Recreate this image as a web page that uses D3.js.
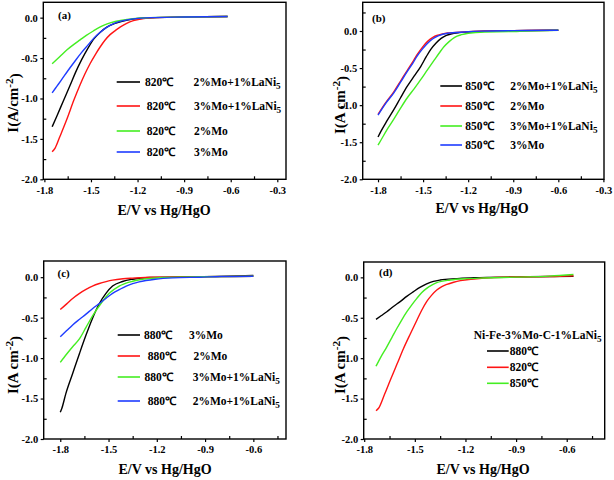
<!DOCTYPE html>
<html><head><meta charset="utf-8">
<script src="https://cdn.jsdelivr.net/npm/d3@7"></script>
<style>
body{margin:0;background:#fff}
svg{display:block}
text{font-family:"Liberation Serif","Times New Roman",serif;font-weight:bold;fill:#000}
</style>
</head><body><svg id="c" width="614" height="480"></svg>
<script>
// ---------- tick labels ----------
const xTicksAB = [-1.8,-1.5,-1.2,-0.9,-0.6,-0.3];
const xLabelsAB = ["-1.8","-1.5","-1.2","-0.9","-0.6","-0.3"];
const xTicksCD = [-1.8,-1.5,-1.2,-0.9,-0.6];
const xLabelsCD = ["-1.8","-1.5","-1.2","-0.9","-0.6"];
const xMinor = [-1.65,-1.35,-1.05,-0.75,-0.45];
const yTicks = [0,-0.5,-1,-1.5,-2];
const yLabels = ["0.0","-0.5","-1.0","-1.5","-2.0"];
const yMinor = [0.25,-0.25,-0.75,-1.25,-1.75];

// ---------- panel (a) 820℃ ----------
const a_2Mo1La = [[-1.75,-1.35],[-1.72,-1.22],[-1.68,-1.04],[-1.635,-0.84],[-1.60,-0.68],[-1.56,-0.52],[-1.52,-0.38],[-1.48,-0.26],[-1.44,-0.18],[-1.40,-0.12],[-1.35,-0.075],[-1.30,-0.045],[-1.23,-0.018],[-1.12,-0.003],[-0.9,0.008],[-0.62,0.015]];
const a_3Mo1La = [[-1.75,-1.66],[-1.73,-1.61],[-1.70,-1.47],[-1.656,-1.26],[-1.61,-1.02],[-1.57,-0.83],[-1.54,-0.70],[-1.506,-0.57],[-1.47,-0.45],[-1.44,-0.36],[-1.41,-0.28],[-1.377,-0.21],[-1.34,-0.155],[-1.31,-0.115],[-1.27,-0.07],[-1.227,-0.037],[-1.16,-0.01],[-1.08,0.0],[-0.9,0.008],[-0.62,0.015]];
const a_2Mo = [[-1.75,-0.57],[-1.70,-0.48],[-1.656,-0.40],[-1.61,-0.33],[-1.57,-0.275],[-1.53,-0.22],[-1.485,-0.165],[-1.44,-0.115],[-1.40,-0.08],[-1.35,-0.05],[-1.31,-0.035],[-1.23,-0.012],[-1.12,0.0],[-0.9,0.008],[-0.62,0.015]];
const a_3Mo = [[-1.75,-0.93],[-1.72,-0.85],[-1.69,-0.77],[-1.65,-0.66],[-1.60,-0.53],[-1.56,-0.43],[-1.52,-0.34],[-1.48,-0.25],[-1.44,-0.18],[-1.40,-0.12],[-1.35,-0.07],[-1.30,-0.04],[-1.23,-0.015],[-1.15,-0.003],[-0.9,0.008],[-0.62,0.015]];

// ---------- panel (b) 850℃ ----------
const b_2Mo1La = [[-1.80,-1.43],[-1.78,-1.35],[-1.74,-1.21],[-1.695,-1.06],[-1.65,-0.90],[-1.605,-0.745],[-1.56,-0.61],[-1.516,-0.48],[-1.48,-0.35],[-1.45,-0.25],[-1.415,-0.165],[-1.38,-0.10],[-1.345,-0.06],[-1.315,-0.04],[-1.26,-0.022],[-1.2,-0.013],[-1.09,-0.003],[-0.9,0.005],[-0.6,0.01]];
const b_2Mo = [[-1.80,-1.125],[-1.75,-0.97],[-1.695,-0.82],[-1.65,-0.675],[-1.605,-0.53],[-1.57,-0.42],[-1.54,-0.32],[-1.505,-0.22],[-1.47,-0.14],[-1.435,-0.085],[-1.40,-0.055],[-1.337,-0.027],[-1.225,-0.012],[-1.11,-0.002],[-0.9,0.005],[-0.6,0.01]];
const b_3Mo1La = [[-1.80,-1.54],[-1.78,-1.47],[-1.74,-1.33],[-1.695,-1.19],[-1.65,-1.04],[-1.605,-0.90],[-1.56,-0.78],[-1.516,-0.656],[-1.47,-0.52],[-1.425,-0.39],[-1.39,-0.29],[-1.36,-0.21],[-1.325,-0.14],[-1.29,-0.085],[-1.245,-0.05],[-1.2,-0.03],[-1.09,-0.013],[-0.93,-0.009],[-0.8,0.0],[-0.6,0.01]];
const b_3Mo = [[-1.80,-1.135],[-1.75,-0.98],[-1.695,-0.835],[-1.65,-0.69],[-1.605,-0.545],[-1.57,-0.44],[-1.54,-0.34],[-1.505,-0.245],[-1.47,-0.165],[-1.435,-0.105],[-1.40,-0.067],[-1.337,-0.03],[-1.225,-0.013],[-1.11,-0.002],[-0.9,0.005],[-0.6,0.01]];

// ---------- panel (c) 880℃ ----------
const c_3Mo = [[-1.80,-1.67],[-1.79,-1.62],[-1.765,-1.436],[-1.723,-1.19],[-1.68,-0.94],[-1.64,-0.716],[-1.60,-0.51],[-1.557,-0.325],[-1.516,-0.20],[-1.475,-0.11],[-1.413,-0.053],[-1.35,-0.025],[-1.245,-0.004],[-1.0,0.005],[-0.8,0.01],[-0.6,0.02]];
const c_2Mo = [[-1.80,-0.40],[-1.76,-0.33],[-1.723,-0.263],[-1.68,-0.20],[-1.64,-0.152],[-1.60,-0.11],[-1.557,-0.078],[-1.515,-0.055],[-1.475,-0.037],[-1.41,-0.02],[-1.35,-0.012],[-1.225,0.0],[-0.9,0.005],[-0.6,0.012]];
const c_3Mo1La = [[-1.80,-1.053],[-1.76,-0.95],[-1.723,-0.86],[-1.68,-0.76],[-1.64,-0.62],[-1.60,-0.48],[-1.547,-0.325],[-1.496,-0.20],[-1.434,-0.11],[-1.35,-0.05],[-1.245,-0.016],[-1.144,-0.004],[-0.9,0.005],[-0.6,0.012]];
const c_2Mo1La = [[-1.80,-0.737],[-1.76,-0.66],[-1.723,-0.59],[-1.68,-0.52],[-1.64,-0.457],[-1.60,-0.39],[-1.557,-0.325],[-1.515,-0.26],[-1.475,-0.20],[-1.43,-0.15],[-1.39,-0.11],[-1.35,-0.08],[-1.31,-0.058],[-1.21,-0.025],[-1.10,-0.008],[-0.935,0.0],[-0.8,0.008],[-0.6,0.012]];

// ---------- panel (d) Ni-Fe-3%Mo-C-1%LaNi5 ----------
const d_880 = [[-1.73,-0.52],[-1.70,-0.475],[-1.666,-0.425],[-1.627,-0.36],[-1.587,-0.30],[-1.548,-0.235],[-1.508,-0.177],[-1.47,-0.125],[-1.43,-0.082],[-1.39,-0.05],[-1.35,-0.033],[-1.25,-0.016],[-1.15,-0.004],[-0.9,0.005],[-0.7,0.01],[-0.56,0.012]];
const d_820 = [[-1.73,-1.65],[-1.715,-1.62],[-1.68,-1.45],[-1.645,-1.27],[-1.605,-1.07],[-1.567,-0.88],[-1.527,-0.70],[-1.488,-0.53],[-1.46,-0.41],[-1.43,-0.30],[-1.40,-0.22],[-1.37,-0.157],[-1.34,-0.115],[-1.31,-0.087],[-1.27,-0.06],[-1.23,-0.04],[-1.15,-0.02],[-1.05,-0.004],[-0.9,0.005],[-0.7,0.01],[-0.56,0.02]];
const d_850 = [[-1.73,-1.10],[-1.70,-0.98],[-1.666,-0.86],[-1.636,-0.745],[-1.606,-0.63],[-1.577,-0.525],[-1.547,-0.425],[-1.518,-0.34],[-1.488,-0.26],[-1.46,-0.19],[-1.43,-0.136],[-1.40,-0.095],[-1.37,-0.066],[-1.29,-0.033],[-1.19,-0.016],[-1.09,-0.008],[-0.9,0.003],[-0.7,0.015],[-0.56,0.035]];

// legend labels
const legA = [["820℃","2%Mo+1%LaNi5"],["820℃","3%Mo+1%LaNi5"],["820℃","2%Mo"],["820℃","3%Mo"]];
const legB = [["850℃","2%Mo+1%LaNi5"],["850℃","2%Mo"],["850℃","3%Mo+1%LaNi5"],["850℃","3%Mo"]];
const legC = [["880℃","3%Mo"],["880℃","2%Mo"],["880℃","3%Mo+1%LaNi5"],["880℃","2%Mo+1%LaNi5"]];
const legD = [["880℃"],["820℃"],["850℃"]];
const legDTitle = "Ni-Fe-3%Mo-C-1%LaNi5";

const COL = {k:"#000000", r:"#ff1414", g:"#44ee22", b:"#1e3cff"};

const panels = [
 {tag:"(a)", tagPos:[58,19], box:[43.3,2.3,286,179.3], xd:[-1.807,-0.244], yd:[-2,0.19],
  xt:xTicksAB, xl:xLabelsAB, series:[[a_2Mo1La,COL.k],[a_3Mo1La,COL.r],[a_2Mo,COL.g],[a_3Mo,COL.b]],
  leg:legA, legX:[116.7,140], legY:[82,106,131,152], txt1:[145,146.7,146.7,146.7], txt2:[193.5,194,194,194],
  xTitle:[164,215], yTitle:[18,103], ySep:"/"},
 {tag:"(b)", tagPos:[372,22], box:[362.7,2.3,604,179.3], xd:[-1.902,-0.296], yd:[-2,0.387],
  xt:xTicksAB, xl:xLabelsAB, series:[[b_2Mo1La,COL.k],[b_2Mo,COL.r],[b_3Mo1La,COL.g],[b_3Mo,COL.b]],
  leg:legB, legX:[440.3,462], legY:[86,106,126,145], txt1:[465.3,465.3,465.3,465.3], txt2:[510.3,510.3,510.3,510.3],
  xTitle:[482,213], yTitle:[345,105], ySep:" "},
 {tag:"(c)", tagPos:[57.5,277], box:[43.7,261,286,439], xd:[-1.903,-0.397], yd:[-2,0.2],
  xt:xTicksCD, xl:xLabelsCD, series:[[c_3Mo,COL.k],[c_2Mo,COL.r],[c_3Mo1La,COL.g],[c_2Mo1La,COL.b]],
  leg:legC, legX:[117.7,140], legY:[335,356,377,401], txt1:[144,147.7,144.5,147.7], txt2:[189,193.5,192.7,192.7],
  xTitle:[165,474], yTitle:[18,365], ySep:" "},
 {tag:"(d)", tagPos:[379,276], box:[363.7,262,604.7,439], xd:[-1.803,-0.375], yd:[-2,0.19],
  xt:xTicksCD, xl:xLabelsCD, series:[[d_880,COL.k],[d_820,COL.r],[d_850,COL.g]],
  leg:legD, legX:[487,508.7], legY:[351,367.3,383.3], txt1:[509.7,509.7,509.7], txt2:[],
  legTitle:[473.7,339], xTitle:[483,474], yTitle:[345,365], ySep:" "}
];

const svg = d3.select("#c");

function addLaNi(sel, str){
  // render trailing "LaNi5" with subscript 5
  if (str.endsWith("LaNi5")) {
    sel.append("tspan").text(str.slice(0,-1));
    sel.append("tspan").attr("dy","0.3em").attr("font-size","0.8em").text("5");
  } else sel.text(str);
}

panels.forEach(p=>{
  const [L,T,R,B] = p.box;
  const x = d3.scaleLinear().domain(p.xd).range([L,R]);
  const y = d3.scaleLinear().domain(p.yd).range([B,T]);
  const g = svg.append("g");

  const styleAxis = s => {
    s.select(".domain").remove();
    s.selectAll("line").attr("stroke","#000").attr("stroke-width",1.2);
    s.selectAll("text").attr("font-size","10.5px");
    s.attr("font-family",null);
  };
  // x major (outward) and minor (inward)
  g.append("g").attr("transform",`translate(0,${B})`)
    .call(d3.axisBottom(x).tickValues(p.xt).tickFormat((d,i)=>p.xl[i]).tickSize(3).tickPadding(4))
    .call(styleAxis);
  g.append("g").attr("transform",`translate(0,${B})`)
    .call(d3.axisBottom(x).tickValues(xMinor.filter(v=>v>p.xd[0]&&v<p.xd[1])).tickFormat("").tickSize(-3))
    .call(styleAxis);
  // y major & minor
  g.append("g").attr("transform",`translate(${L},0)`)
    .call(d3.axisLeft(y).tickValues(yTicks).tickFormat((d,i)=>yLabels[i]).tickSize(3).tickPadding(2.5))
    .call(styleAxis);
  g.append("g").attr("transform",`translate(${L},0)`)
    .call(d3.axisLeft(y).tickValues(yMinor.filter(v=>v>p.yd[0]&&v<p.yd[1])).tickFormat("").tickSize(-3))
    .call(styleAxis);

  // curves
  const line = d3.line().x(d=>x(d[0])).y(d=>y(d[1])).curve(d3.curveMonotoneX);
  p.series.forEach(([data,col])=>{
    g.append("path").datum(data).attr("d",line).attr("fill","none")
      .attr("stroke",col).attr("stroke-width",1.4).attr("stroke-linejoin","round");
  });

  // frame
  g.append("rect").attr("x",L).attr("y",T).attr("width",R-L).attr("height",B-T)
    .attr("fill","none").attr("stroke","#000").attr("stroke-width",1.4);

  // panel tag
  g.append("text").attr("x",p.tagPos[0]).attr("y",p.tagPos[1]).attr("font-size","11px").text(p.tag);

  // legend
  if (p.legTitle) {
    const t = g.append("text").attr("x",p.legTitle[0]).attr("y",p.legTitle[1]).attr("font-size","11.5px");
    addLaNi(t, legDTitle);
  }
  p.leg.forEach((row,i)=>{
    const yy = p.legY[i];
    g.append("line").attr("x1",p.legX[0]).attr("x2",p.legX[1]).attr("y1",yy).attr("y2",yy)
      .attr("stroke",p.series[i][1]).attr("stroke-width",1.6);
    g.append("text").attr("x",p.txt1[i]).attr("y",yy).attr("dy","0.35em").attr("font-size","11.5px").text(row[0]);
    if (row[1]) {
      const t = g.append("text").attr("x",p.txt2[i]).attr("y",yy).attr("dy","0.35em").attr("font-size","11.5px");
      addLaNi(t,row[1]);
    }
  });

  // axis titles
  g.append("text").attr("x",p.xTitle[0]).attr("y",p.xTitle[1]).attr("text-anchor","middle")
    .attr("font-size","14px").text("E/V vs Hg/HgO");
  const yt = g.append("text").attr("transform",`translate(${p.yTitle[0]},${p.yTitle[1]}) rotate(-90)`)
    .attr("text-anchor","middle").attr("font-size","15px");
  yt.append("tspan").text("I(A" + p.ySep + "cm");
  yt.append("tspan").attr("dy","-0.45em").attr("font-size","0.75em").text("-2");
  yt.append("tspan").attr("dy","0.45em").text(")");
});
</script>
</body></html>
